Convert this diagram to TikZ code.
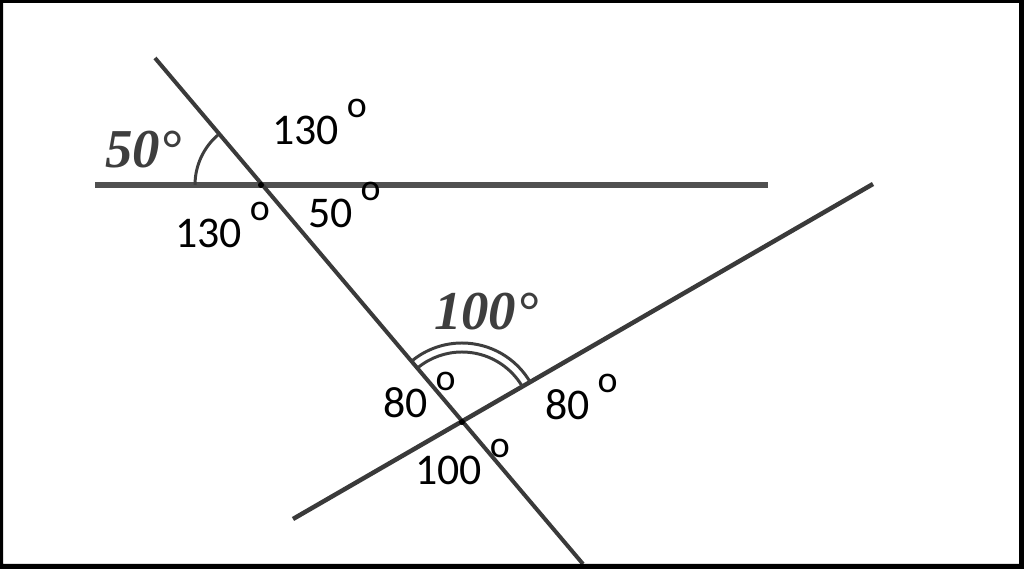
\documentclass[tikz,border=0pt]{standalone}
\usepackage{fontspec}
\setmainfont{Carlito}
\newfontfamily\bigserif{Liberation Serif}
\usepackage{tikz}
\definecolor{linegray}{HTML}{3A3A3A}
\definecolor{hgray}{HTML}{505050}
\definecolor{markgray}{HTML}{3E3E3E}
\newcommand{\supo}[1]{#1\hspace{8bp}\raisebox{27bp}{\fontsize{38}{40}\selectfont o}}

\begin{document}
\begin{tikzpicture}[x=1bp,y=1bp,
  lbl/.style={anchor=base west,inner sep=0pt,font=\fontsize{44}{48}\selectfont},
  biglbl/.style={anchor=base west,inner sep=0pt,text=markgray,
    font=\bigserif\bfseries\itshape\fontsize{55}{60}\selectfont}]
\useasboundingbox (0,0) rectangle (1024,569);
% points of the figure
\coordinate (A) at (261,384);
\coordinate (B) at (462,147);
\coordinate (Tt) at (155,511);
\coordinate (Tb) at (583,5);
\coordinate (Hl) at (95,384);
\coordinate (Hr) at (768,384);
\coordinate (Sl) at (293,50);
\coordinate (Sr) at (873,385);
\draw[line width=6,color=hgray] (Hl)--(Hr);
\draw[line width=4,color=linegray] (Tt)--(Tb);
\draw[line width=4.5,color=linegray] (Sl)--(Sr);
% angle marks
\draw[line width=3,color=markgray] ([shift={(180:66)}]A) arc (180:130:66);
\draw[line width=3,color=markgray] ([shift={(30:70)}]B) arc (30:129:70);
\draw[line width=3,color=markgray] ([shift={(30:79)}]B) arc (30:129:79);
\fill (A) circle (3);
\fill (B) circle (3);
% labels
\node[biglbl] (m50) at (105,401) {50°};
\node[biglbl] (m100) at (434,239) {100°};
\node[lbl] (a130) at (272,424) {\supo{130}};
\node[lbl] (a50) at (308,341) {\supo{50}};
\node[lbl] (b130) at (175,321) {\supo{130}};
\node[lbl] (c80) at (383,151) {\supo{80}};
\node[lbl] (d80) at (545,149) {\supo{80}};
\node[lbl] (e100) at (415,84) {\supo{100}};
% frame
\fill[black,even odd rule] (0,0) rectangle (1024,569) (3,5) rectangle (1019,566);
\end{tikzpicture}
\end{document}
